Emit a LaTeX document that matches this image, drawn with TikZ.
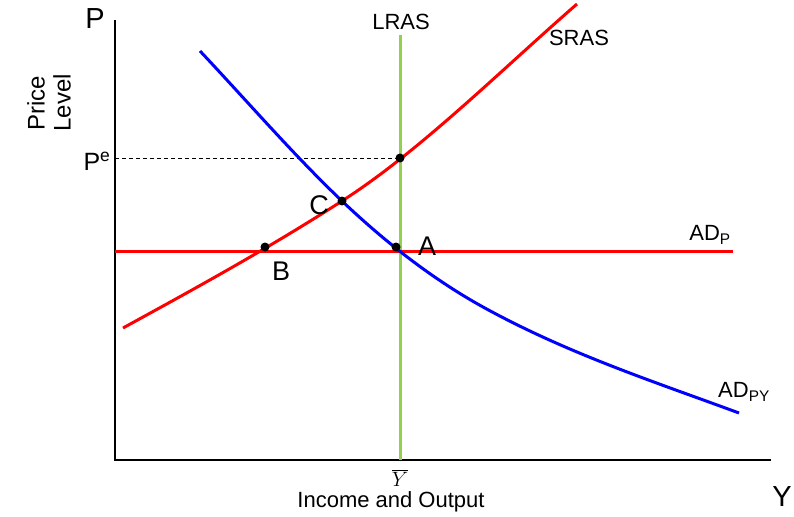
\documentclass[tikz,border=0pt]{standalone}
\usepackage{fontspec}
\setmainfont{Liberation Sans}
\definecolor{curvered}{RGB}{255,0,0}
\definecolor{curveblue}{RGB}{0,0,255}
\definecolor{lrasgreen}{RGB}{146,208,80}
\usepackage{tikz}
\usetikzlibrary{positioning}
\tikzset{
  axisline/.style={black,line width=2pt},
  redcurve/.style={curvered,line width=3pt},
  bluecurve/.style={curveblue,line width=3pt},
  greenline/.style={lrasgreen,line width=3pt},
  guideline/.style={black,line width=0.9pt,dash pattern=on 4pt off 3pt},
  dotmark/.style={circle,fill=black,inner sep=0pt,minimum size=9pt},
  curvelabel/.style={font=\fontsize{22}{26}\selectfont,inner sep=0pt},
  pointlabel/.style={font=\fontsize{27}{30}\selectfont,inner sep=0pt},
  axislabel/.style={font=\fontsize{29}{32}\selectfont,inner sep=0pt}
}

\begin{document}
\begin{tikzpicture}[x=1pt,y=-1pt]
  \useasboundingbox (0,0) rectangle (794,516);

  % Axes
  \coordinate (top) at (115,20);
  \coordinate (O) at (115,460);
  \coordinate (right) at (771,460);
  \draw[axisline] (top) -- (O) -- (right);
  \node[axislabel] (Plab) at (95,19) {P};
  \node[axislabel] (Ylab) at (782,497) {Y};
  \node[font=\fontsize{24}{26}\selectfont,align=center,rotate=90,inner sep=0pt]
    (pricelevel) at (49,103) {Price\\Level};
  \node[font=\fontsize{22}{26}\selectfont,inner sep=0pt] (income) at (391,502) {Income and Output};
  \node[font=\fontsize{21}{24}\selectfont,inner sep=0pt] (ybar) at (400,478) {$\overline{Y}$};

  % Expected price level
  \coordinate (pe0) at (115,158);
  \coordinate (E) at (400,158);
  \draw[guideline] (pe0) -- (E);
  \node[font=\fontsize{25}{28}\selectfont,inner sep=0pt] (Pe) at (97,161) {P\textsuperscript{e}};

  % LRAS
  \coordinate (lras0) at (400.5,35);
  \coordinate (lras1) at (400.5,460);
  \draw[greenline] (lras0) -- (lras1);
  \node[curvelabel] (LRAS) at (401,22) {LRAS};

  % AD_P
  \coordinate (adp0) at (115,251);
  \coordinate (adp1) at (733,251);
  \draw[redcurve] (adp0) -- (adp1);
  \node[curvelabel] (ADP) at (710,235) {AD\textsubscript{P}};

  % Points
  \coordinate (A) at (396,247);
  \coordinate (B) at (265,247);
  \coordinate (C) at (342,201);

  % SRAS
  \coordinate (sras0) at (123,328);
  \coordinate (sras1) at (577,4);
  \draw[redcurve] (sras0) .. controls (196,288) and (269,248) .. (C)
    .. controls (420,151) and (499,72) .. (sras1);
  \node[curvelabel] (SRAS) at (579,38) {SRAS};

  % AD_PY
  \coordinate (adpy0) at (200,51);
  \coordinate (adpy1) at (483,307);
  \coordinate (adpy2) at (739,413);
  \draw[bluecurve] (adpy0) .. controls (247,101) and (295,156.4) .. (C)
    .. controls (389,245.7) and (436,281) .. (adpy1)
    .. controls (568,353.8) and (654,381.6) .. (adpy2);
  \node[curvelabel] (ADPY) at (744,392) {AD\textsubscript{PY}};

  \node[dotmark] (dotE) at (E) {};
  \node[dotmark] (dotA) at (A) {};
  \node[dotmark] (dotB) at (B) {};
  \node[dotmark] (dotC) at (C) {};
  \node[pointlabel] (Alab) at (427,246) {A};
  \node[pointlabel] (Blab) at (281,271) {B};
  \node[pointlabel] (Clab) at (319,205) {C};
\end{tikzpicture}
\end{document}
